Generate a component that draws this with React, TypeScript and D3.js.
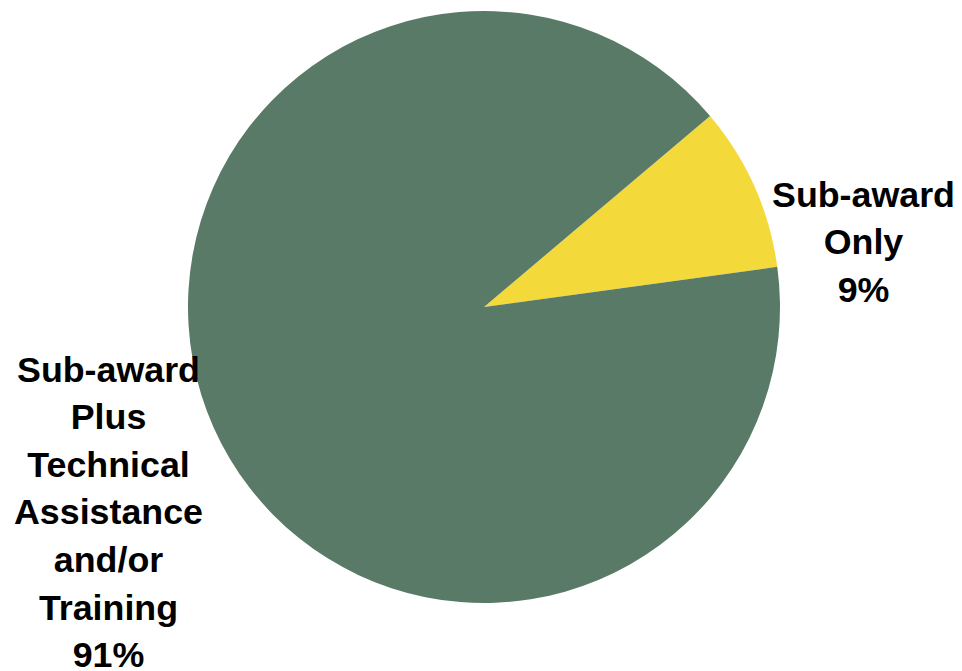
import React from "react";
import * as d3 from "d3";

const categories = ["Sub-award Only", "Sub-award Plus Technical Assistance and/or Training"];
const values = [9, 91];
const labelLines = [
  ["Sub-award", "Only", "9%"],
  ["Sub-award", "Plus", "Technical", "Assistance", "and/or", "Training", "91%"],
];
const colors = ["#f4d93b", "#5a7a68"];

export default function App() {
  const width = 962;
  const height = 671;
  const cx = 484;
  const cy = 307;
  const r = 296;
  const start = (49.8 * Math.PI) / 180;
  const pie = d3.pie<number>().sort(null).startAngle(start).endAngle(start + 2 * Math.PI);
  const arcs = pie(values);
  const arc = d3.arc<d3.PieArcDatum<number>>().innerRadius(0).outerRadius(r);
  const labelPos = [
    { x: 863.5, y: 206.5 },
    { x: 108.5, y: 381.5 },
  ];
  const lineH = 47.6;
  return (
    <svg width={width} height={height} style={{ position: "absolute", left: 0, top: 0 }}>
      <g transform={`translate(${cx},${cy})`}>
        {arcs.map((a, i) => (
          <path key={categories[i]} d={arc(a) || ""} fill={colors[i]} />
        ))}
      </g>
      {labelLines.map((lines, i) => (
        <text
          key={i}
          textAnchor="middle"
          fontFamily="Liberation Sans, Arial, sans-serif"
          fontWeight="bold"
          fontSize={35.8}
          fill="#000"
        >
          {lines.map((l, j) => (
            <tspan key={j} x={labelPos[i].x} y={labelPos[i].y + j * lineH}>
              {l}
            </tspan>
          ))}
        </text>
      ))}
    </svg>
  );
}
